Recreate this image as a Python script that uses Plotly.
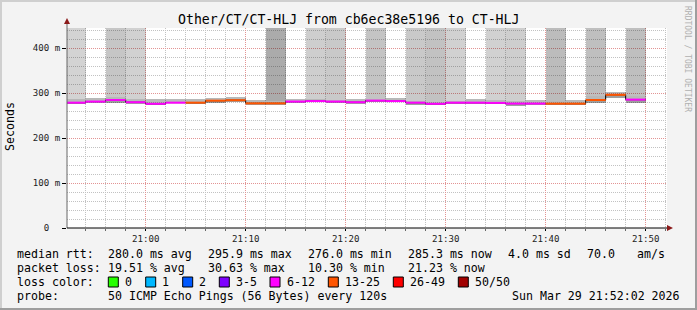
import plotly.graph_objects as go
import pandas as pd

# ---------------- data ----------------
step_start = list(pd.date_range("2026-03-29 20:52:00", periods=29, freq="2min"))
median_ms = [278.5, 281.0, 284.5, 279.5, 276.0, 278.5, 278.5, 283.0, 284.0, 277.0,
             277.0, 281.0, 282.0, 281.0, 279.5, 283.0, 282.0, 278.5, 276.0, 278.5,
             278.5, 278.0, 276.5, 276.5, 276.3, 276.3, 284.4, 295.9, 285.3]
loss_pct = [16, 14, 20, 18, 12, 22, 28, 30, 26, 28,
            30.6, 16, 18, 20, 12, 20, 14, 16, 22, 18,
            12, 18, 20, 16, 28, 26, 28, 30, 21.2]
smoke_lo_ms = [276.5, 278.0, 278.0, 276.5, 272.5, 277.0, 275.5, 278.5, 280.0, 274.0,
               274.0, 278.5, 279.0, 277.5, 276.5, 279.5, 279.0, 273.5, 272.5, 275.5,
               275.5, 275.0, 271.0, 273.5, 273.5, 273.5, 277.5, 288.0, 277.5]
smoke_hi_ms = [286.0, 288.0, 292.0, 286.5, 287.0, 287.0, 286.5, 289.0, 291.0, 283.5,
               283.0, 286.5, 287.0, 285.0, 286.0, 287.0, 289.0, 282.0, 279.5, 282.0,
               287.0, 284.0, 282.0, 285.5, 282.0, 285.5, 293.0, 303.0, 293.0]
overflow_pings = [4, 0, 9, 5, 0, 0, 0, 0, 0, 0,
                  20, 0, 6, 8, 0, 10, 0, 8, 11, 5,
                  0, 5, 6, 0, 13, 0, 12, 0, 12]

y_tick_vals = [0, 100, 200, 300, 400]
y_tick_text = ["0\u00a0\u00a0", "100 m", "200 m", "300 m", "400 m"]

title_text = "Other/CT/CT-HLJ from cb6ec38e5196 to CT-HLJ"
rtt_stats = ["280.0 ms avg", "295.9 ms max", "276.0 ms min", "285.3 ms now", "4.0 ms sd"]
rtt_extra = ["70.0", "am/s"]
loss_stats = ["19.51 % avg", "30.63 % max", "10.30 % min", "21.23 % now"]
loss_bins = ["0", "1", "2", "3-5", "6-12", "13-25", "26-49", "50/50"]
loss_bin_colors = ["#26ff00", "#00b8ff", "#0059ff", "#7e00ff", "#ff00ff", "#ff5500", "#ff0000", "#a10000"]
probe_text = "50 ICMP Echo Pings (56 Bytes) every 120s"
stamp_text = "Sun Mar 29 21:52:02 2026"

# ---------------- geometry helpers ----------------
W, H = 697, 310
L, R, T, B = 67, 667, 28, 228
Y_MAX = 444.44
STEP = pd.Timedelta(minutes=2)
x_start = pd.Timestamp("2026-03-29 20:52:08")
x_end = pd.Timestamp("2026-03-29 21:52:08")


def px(x):
    return (x - L) / (R - L)


def py(y):
    return (B - y) / (B - T)


MONO = "DejaVu Sans Mono"

fig = go.Figure()

centers = [s + STEP / 2 for s in step_start]
width_ms = [STEP.total_seconds() * 1000] * len(step_start)

# tall bands (pings above the chart top)
band_x, band_base, band_h, band_col = [], [], [], []
for c, hi, n in zip(centers, smoke_hi_ms, overflow_pings):
    if n > 0:
        band_x.append(c)
        band_base.append(hi)
        band_h.append(Y_MAX * 1.2 - hi)
        band_col.append("rgba(0,0,0,%.3f)" % ((34 + 2.5 * n) / 255))
fig.add_trace(go.Bar(x=band_x, y=band_h, base=band_base,
                     width=[width_ms[0]] * len(band_x),
                     marker=dict(color=band_col, line=dict(width=0)),
                     hoverinfo="skip", showlegend=False))

# upper smoke
fig.add_trace(go.Bar(x=centers, y=[h - m for h, m in zip(smoke_hi_ms, median_ms)],
                     base=median_ms, width=width_ms,
                     marker=dict(color="rgba(0,0,0,0.28)", line=dict(width=0)),
                     hoverinfo="skip", showlegend=False))
# lower smoke
fig.add_trace(go.Bar(x=centers, y=[m - l for m, l in zip(median_ms, smoke_lo_ms)],
                     base=smoke_lo_ms, width=width_ms,
                     marker=dict(color="rgba(0,0,0,0.38)", line=dict(width=0)),
                     hoverinfo="skip", showlegend=False))

# black median step line
fig.add_trace(go.Scatter(x=step_start + [step_start[-1] + STEP],
                         y=median_ms + [median_ms[-1]],
                         mode="lines", line=dict(color="#000000", width=1, shape="hv"),
                         hoverinfo="skip", showlegend=False))


def bin_index(pct):
    n = round(pct / 100 * 50)
    if n == 0:
        return 0
    if n == 1:
        return 1
    if n == 2:
        return 2
    if n <= 5:
        return 3
    if n <= 12:
        return 4
    if n <= 25:
        return 5
    if n <= 49:
        return 6
    return 7


for bi, col in enumerate(loss_bin_colors):
    xs, ys = [], []
    for s, m, p in zip(step_start, median_ms, loss_pct):
        if bin_index(p) == bi:
            xs += [s, s + STEP, None]
            ys += [m, m, None]
    if xs:
        fig.add_trace(go.Scatter(x=xs, y=ys, mode="lines",
                                 line=dict(color=col, width=2),
                                 hoverinfo="skip", showlegend=False))

shapes = []
ann = []

# y axis line extending above the plot + arrow
shapes.append(dict(type="line", xref="paper", yref="paper", x0=0, x1=0,
                   y0=0, y1=py(21), line=dict(color="#666666", width=1)))
shapes.append(dict(type="path", xref="paper", yref="paper",
                   path="M %f,%f L %f,%f L %f,%f Z" % (px(64), py(24), px(70), py(24), px(67), py(18)),
                   fillcolor="#8b1a1a", line=dict(width=0)))
# x axis line + arrow
shapes.append(dict(type="line", xref="paper", yref="paper", x0=0, x1=px(668),
                   y0=0, y1=0, line=dict(color="#000000", width=1)))
shapes.append(dict(type="path", xref="paper", yref="paper",
                   path="M %f,%f L %f,%f L %f,%f Z" % (px(667), py(225), px(667), py(231), px(673), py(228)),
                   fillcolor="#8b1a1a", line=dict(width=0)))

# frame
shapes.append(dict(type="rect", xref="paper", yref="paper", x0=px(0), x1=px(2), y0=py(310), y1=py(0),
                   fillcolor="#cfcfcf", line=dict(width=0)))
shapes.append(dict(type="rect", xref="paper", yref="paper", x0=px(0), x1=px(697), y0=py(2), y1=py(0),
                   fillcolor="#cfcfcf", line=dict(width=0)))
shapes.append(dict(type="rect", xref="paper", yref="paper", x0=px(695), x1=px(697), y0=py(310), y1=py(0),
                   fillcolor="#9e9e9e", line=dict(width=0)))
shapes.append(dict(type="rect", xref="paper", yref="paper", x0=px(0), x1=px(697), y0=py(310), y1=py(308),
                   fillcolor="#9e9e9e", line=dict(width=0)))


def text(t, x, y, size=11.6, anchor="left", color="#000000", angle=0):
    ann.append(dict(text=t, x=px(x), y=py(y), xref="paper", yref="paper",
                    xanchor=anchor, yanchor="middle", showarrow=False, textangle=angle,
                    borderpad=0, font=dict(family=MONO, size=size, color=color)))


text(title_text, 348.5, 19, size=13.2, anchor="center")
text("Seconds", 10, 127, angle=-90, anchor="center")
text("RRDTOOL / TOBI OETIKER", 688, 59, size=8, anchor="center", color="#b0b0b0", angle=90)

# legend rows
col_x = [107.3, 207.3, 307.3, 407.3, 507.3]
text("median rtt:", 16, 254.3)
for t, x in zip(rtt_stats, col_x):
    text(t, x, 254.3)
text(rtt_extra[0], 586, 254.3)
text(rtt_extra[1], 636, 254.3)

text("packet loss:", 16, 268)
for t, x in zip(loss_stats, col_x):
    text(t, x, 268)

text("loss color:", 16, 282)
box_x = [108.3, 145.7, 182.7, 219.3, 270, 328.3, 393.3, 458.3]
for lbl, col, bx in zip(loss_bins, loss_bin_colors, box_x):
    shapes.append(dict(type="rect", xref="paper", yref="paper",
                       x0=px(bx), x1=px(bx + 10), y0=py(287), y1=py(277),
                       fillcolor=col, line=dict(color="#000000", width=1)))
    text(lbl, bx + 15.5, 282)

text("probe:", 16, 296)
text(probe_text, 107.3, 296)
text(stamp_text, 681, 296, anchor="right")

fig.update_layout(
    width=W, height=H,
    margin=dict(l=L, r=W - R, t=T, b=H - B, pad=0),
    paper_bgcolor="#f3f3f3", plot_bgcolor="#ffffff",
    barmode="overlay", bargap=0,
    showlegend=False,
    shapes=shapes, annotations=ann,
    font=dict(family=MONO, size=9.1, color="#222222"),
)

fig.update_xaxes(
    type="date", range=[x_start, x_end],
    tick0="2026-03-29 21:00:00", dtick=600000, tickformat="%H:%M",
    showgrid=True, gridcolor="#e39494", griddash="1px,1px", gridwidth=1,
    ticks="outside", ticklen=2, tickcolor="#000000",
    showline=False, zeroline=False,
    tickfont=dict(family=MONO, size=9.1, color="#222222"),
    minor=dict(dtick=120000, tick0="2026-03-29 21:00:00", showgrid=True,
               gridcolor="#c2c2c2", griddash="1px,1px", ticks="outside",
               ticklen=2, tickcolor="#666666"),
    fixedrange=True,
)
fig.update_yaxes(
    range=[0, Y_MAX], tickvals=y_tick_vals, ticktext=y_tick_text,
    showgrid=True, gridcolor="#e39494", griddash="1px,1px", gridwidth=1,
    ticks="outside", ticklen=4, tickcolor="#000000",
    showline=False, zeroline=False,
    tickfont=dict(family=MONO, size=9.1, color="#222222"),
    minor=dict(dtick=20, tick0=0, showgrid=True, gridcolor="#c2c2c2", griddash="1px,1px"),
    fixedrange=True,
)

fig.write_html("out.html")
